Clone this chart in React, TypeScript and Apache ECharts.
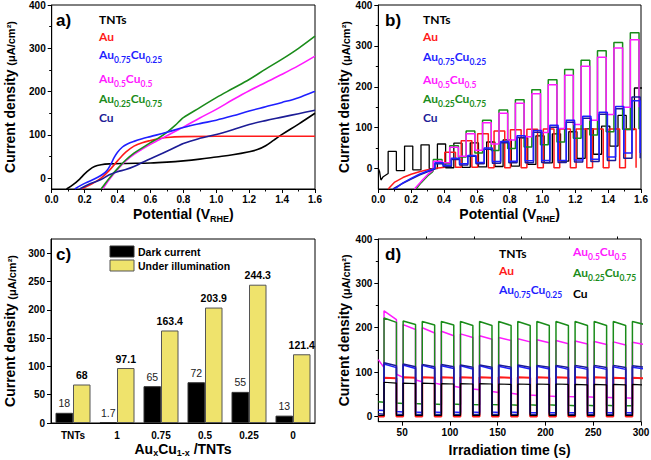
import React, { useEffect, useRef } from 'react';
import * as echarts from 'echarts';

const FONT = "'Liberation Sans', Arial, sans-serif";
const LEG_FONT = "Lato, 'Open Sans', sans-serif";

const C_BLACK = '#000000';
const C_RED = '#ff1a1a';
const C_BLUE = '#1f1fff';
const C_MAGENTA = '#ff1aff';
const C_GREEN = '#1a8c1a';
const C_NAVY = '#1c1c96';
const C_YELLOW = '#efe36c';

// ---------- panel a: LSV curves [potential V_RHE, current µA/cm²]
const aTNTs = [[0.09,-25],[0.13,-15],[0.17,-2],[0.2,10],[0.23,20],[0.26,27],[0.3,31],[0.35,33],[0.45,34],[0.6,35],[0.7,37],[0.8,40],[0.9,44],[1.0,49],[1.1,54],[1.2,61],[1.25,66],[1.3,75],[1.35,88],[1.4,101],[1.5,125],[1.6,150]];
const aAu = [[0.18,-25],[0.25,-12],[0.3,0],[0.35,18],[0.4,40],[0.45,60],[0.5,74],[0.55,82],[0.6,87],[0.65,91],[0.7,94],[0.8,96],[1.0,97],[1.6,97]];
const aAu75 = [[0.14,-25],[0.2,-12],[0.28,2],[0.33,15],[0.36,33],[0.38,48],[0.4,60],[0.43,72],[0.46,79],[0.5,85],[0.55,91],[0.6,96],[0.7,106],[0.8,117],[0.9,126],[1.0,134],[1.1,144],[1.2,155],[1.3,165],[1.4,175],[1.5,186],[1.6,201]];
const aAu50 = [[0.31,-25],[0.35,-3],[0.4,20],[0.45,40],[0.5,55],[0.55,67],[0.6,78],[0.65,88],[0.7,98],[0.8,118],[0.9,139],[1.0,159],[1.1,181],[1.2,202],[1.3,221],[1.4,240],[1.5,260],[1.6,282]];
const aAu25 = [[0.3,-25],[0.35,0],[0.4,22],[0.45,42],[0.5,58],[0.55,70],[0.6,82],[0.65,93],[0.7,106],[0.75,122],[0.78,133],[0.8,140],[0.9,163],[1.0,186],[1.1,207],[1.2,228],[1.3,252],[1.4,275],[1.5,300],[1.6,328]];
const aCu = [[0.17,-25],[0.22,-15],[0.3,-3],[0.35,8],[0.4,15],[0.45,20],[0.5,27],[0.55,36],[0.6,45],[0.7,62],[0.8,80],[0.9,92],[1.0,101],[1.1,112],[1.2,124],[1.3,133],[1.4,141],[1.5,149],[1.6,157]];

// ---------- panel b: chopped LSV. pre-chop points, dark & light level per 0.1 V cycle, light window in cycle
const B_CYCLE = 0.1;
const bTNTsPre = [[0.0,0],[0.008,-8],[0.016,-28],[0.03,-20],[0.06,-12]];
const bTNTsDark = [-12,-5,-3,0,2,3,4,5,6,10,14,18,25,35,55,95];
const bTNTsLight = [42,55,58,60,62,63,65,70,75,80,85,90,97,104,130,197];
const bTNTsWin = [0.06, 0.11];
const bAuPre = [[0.06,-50],[0.1,-33],[0.15,-22],[0.2,-14],[0.25,-8],[0.3,-3],[0.35,1]];
const bAuDark = [3,3,3,2,2,2,2,2,2,2,2,2];
const bAuLight = [40,68,85,92,95,96,97,97,97,97,97,97];
const bAuWin = [0.005, 0.07];
const bAu25Pre = [[0.23,-50],[0.26,-35],[0.3,-18],[0.33,-8]];
const bAu25Dark = [-5,12,28,38,44,49,53,58,65,74,82,90,96];
const bAu25Light = [22,56,92,118,143,168,193,217,242,265,288,308,332];
const bAu50Pre = [[0.22,-50],[0.26,-32],[0.3,-15],[0.33,-5]];
const bAu50Dark = [-3,14,30,45,60,70,78,88,98,108,118,132,150];
const bAu50Light = [18,52,85,112,135,160,183,205,228,250,272,295,315];
const bAu25Win = [0.035, 0.088];
const bAu75Pre = [[0.1,-50],[0.15,-35],[0.2,-24],[0.25,-14],[0.3,-6],[0.34,0]];
const bAu75Dark = [0,8,12,15,17,18,19,20,20,21,23,28,38];
const bAu75Light = [14,25,32,50,66,80,93,106,118,128,138,152,166];
const bCuPre = [[0.09,-50],[0.14,-38],[0.2,-26],[0.25,-16],[0.3,-8],[0.34,-2]];
const bCuDark = [-2,5,9,12,13,14,14,15,15,16,17,20,25];
const bCuLight = [12,22,30,47,63,76,89,101,113,123,133,146,175];
const bBlueWin = [0.045, 0.095];

// ---------- panel c
const cCategories = ['TNTs', '1', '0.75', '0.5', '0.25', '0'];
const cDark = [18, 1.7, 65, 72, 55, 13];
const cLight = [68, 97.1, 163.4, 203.9, 244.3, 121.4];

// ---------- panel d: chopped chronoamperometry, light on 31 s + 20 s·k for 13 s
const D_START = 25;
const D_FIRST_ON = 31;
const D_PERIOD = 20;
const D_ON = 13;
const dTNTsDarkS = [2,2,2,2,2,2,2,2,2,2,2,2,2,2];
const dTNTsDarkE = [2,2,2,2,2,2,2,2,2,2,2,2,2,2];
const dTNTsLightS = [77,75,75,74,74,74,73,73,73,73,72,72,72,72];
const dTNTsLightE = [75,74,74,73,73,73,72,72,72,72,71,71,71,71];
const dAuDarkS = [0,0,0,0,0,0,0,0,0,0,0,0,0,0];
const dAuDarkE = [0,0,0,0,0,0,0,0,0,0,0,0,0,0];
const dAuLightS = [87,88,88,88,88,88,88,88,88,88,88,88,87,87];
const dAuLightE = [86,87,87,87,87,87,87,87,87,87,87,87,86,86];
const dAu75DarkS = [14,11,10,10,10,10,10,10,9,9,9,9,9,9];
const dAu75DarkE = [13,10,9,9,9,9,9,9,8,8,8,8,8,8];
const dAu75LightS = [118,116,115,114,114,114,113,113,113,113,112,112,112,111];
const dAu75LightE = [110,108,108,108,107,107,107,107,107,106,106,106,106,107];
const dAu50DarkS = [128,95,82,75,68,62,56,52,48,46,45,44,43,42];
const dAu50DarkE = [110,88,78,72,65,60,54,50,47,45,44,43,42,41];
const dAu50LightS = [238,207,200,192,186,182,178,175,173,171,170,169,168,167];
const dAu50LightE = [218,196,188,182,178,174,171,168,166,164,163,162,161,162];
const dAu25DarkS = [33,30,29,28,28,27,27,26,26,26,25,25,25,24];
const dAu25DarkE = [32,29,28,27,27,26,26,25,25,25,24,24,24,24];
const dAu25LightS = [222,215,214,214,214,214,214,214,214,214,214,214,214,214];
const dAu25LightE = [212,207,206,206,205,205,205,205,205,205,205,205,205,207];
const dCuDarkS = [6,5,5,5,5,5,5,5,5,5,5,5,5,5];
const dCuDarkE = [5,4,4,4,4,4,4,4,4,4,4,4,4,4];
const dCuLightS = [121,118,117,117,116,116,116,116,115,115,115,115,115,114];
const dCuLightE = [114,112,112,112,111,111,111,111,111,110,110,110,110,111];

// ---------- builders (tables from the arrays above)
function buildChop(pre: number[][], dark: number[], light: number[], win: number[]) {
  const pts: number[][] = pre.map((p) => [p[0], p[1]]);
  const k0 = Math.round((pre[pre.length - 1][0] - win[0]) / B_CYCLE + 0.4999);
  for (let i = 0; i < dark.length; i++) {
    const k = k0 + i;
    const s = +(B_CYCLE * k + win[0]).toFixed(4);
    const e = +(B_CYCLE * k + win[1]).toFixed(4);
    const next = i + 1 < dark.length ? dark[i + 1] : dark[i];
    pts.push([s, dark[i]], [s, light[i]], [e, light[i]], [e, next]);
  }
  return pts;
}

function buildPulses(darkS: number[], darkE: number[], lightS: number[], lightE: number[]) {
  const pts: number[][] = [];
  for (let k = 0; k < lightS.length; k++) {
    const t0 = k === 0 ? D_START : D_FIRST_ON + D_PERIOD * (k - 1) + D_ON;
    const tOn = D_FIRST_ON + D_PERIOD * k;
    const tOff = tOn + D_ON;
    pts.push([t0, darkS[k]], [tOn, darkE[k]], [tOn, lightS[k]], [tOff, lightE[k]]);
  }
  return pts;
}

const tickFont = { fontFamily: FONT, fontWeight: 'bold' as const, fontSize: 10, color: '#000' };

function yName(gap: number) {
  return {
    name: '{m|Current density }{n|(μA/cm²)}',
    nameLocation: 'middle',
    nameGap: gap,
    nameMoveOverlap: false,
    nameTextStyle: {
      rich: {
        m: { fontFamily: FONT, fontWeight: 'bold', fontSize: 14, color: '#000' },
        n: { fontFamily: FONT, fontWeight: 'bold', fontSize: 11, color: '#000', padding: [3, 0, 0, 0] },
      },
    },
  };
}

function subName(text: string, gap: number, subPad = 10) {
  return {
    name: text,
    nameLocation: 'middle',
    nameGap: gap,
    nameMoveOverlap: false,
    nameTextStyle: {
      rich: {
        m: { fontFamily: FONT, fontWeight: 'bold', fontSize: 14, color: '#000', lineHeight: 16 },
        s: { fontFamily: FONT, fontWeight: 'bold', fontSize: 9, color: '#000', lineHeight: 9, padding: [subPad, 0, 0, 0] },
      },
    },
  };
}

const axisLineStyle = { show: true, onZero: false, lineStyle: { color: '#000', width: 1 } };

function valueY(grid: number, min: number, max: number, labels: number[], gap: number) {
  return {
    type: 'value', gridIndex: grid, position: 'left', min, max,
    axisLine: axisLineStyle,
    axisTick: { show: true, length: 4, customValues: labels, lineStyle: { color: '#000' } },
    axisLabel: { ...tickFont, margin: 6, customValues: labels },
    splitLine: { show: false },
    ...yName(gap),
  };
}

function minorY(grid: number, min: number, max: number, ticks: number[]) {
  return {
    type: 'value', gridIndex: grid, position: 'left', min, max,
    axisLine: { show: false, onZero: false },
    axisTick: { show: true, length: 2.5, customValues: ticks, lineStyle: { color: '#000' } },
    axisLabel: { show: false },
    splitLine: { show: false },
  };
}

function potentialX(grid: number) {
  return {
    type: 'value', gridIndex: grid, min: 0, max: 1.6, interval: 0.2,
    axisLine: axisLineStyle,
    axisTick: { show: true, length: 4, lineStyle: { color: '#000' } },
    minorTick: { show: true, splitNumber: 2, length: 2.5, lineStyle: { color: '#000' } },
    axisLabel: { ...tickFont, margin: 5, formatter: (v: number) => v.toFixed(1) },
    splitLine: { show: false },
    ...subName('{m|Potential (V}{s|RHE}{m|)}', 17),
  };
}

function line(name: string, data: number[][], color: string, xi: number, yi: number, w = 1.5) {
  return {
    type: 'line', name, data, xAxisIndex: xi, yAxisIndex: yi,
    showSymbol: false, symbol: 'none', smooth: false,
    lineStyle: { color, width: w }, itemStyle: { color },
    silent: true, z: 2,
  };
}

function smoothLine(name: string, data: number[][], color: string, xi: number, yi: number) {
  return { ...line(name, data, color, xi, yi, 1.6), smooth: 0.35 };
}

function legendText(x: number, y: number, text: string, color: string) {
  return {
    type: 'text', x, y, silent: true,
    style: {
      text, fill: color,
      font: `bold 12px ${LEG_FONT}`,
      align: 'left', verticalAlign: 'middle',
      rich: {
        m: { fill: color, fontSize: 12, fontWeight: 'bold', fontFamily: LEG_FONT, lineHeight: 15 },
        s: { fill: color, fontSize: 8.5, fontWeight: 'bold', fontFamily: LEG_FONT, lineHeight: 9, padding: [11, 0, 0, 0] },
      },
    },
  };
}

function panelLabel(x: number, y: number, text: string) {
  return {
    type: 'text', x, y, silent: true,
    style: { text, fill: '#000', font: `bold 17px ${FONT}`, align: 'left', verticalAlign: 'middle' },
  };
}

const L_AU75 = '{m|Au}{s|0.75}{m|Cu}{s|0.25}';
const L_AU50 = '{m|Au}{s|0.5}{m|Cu}{s|0.5}';
const L_AU25 = '{m|Au}{s|0.25}{m|Cu}{s|0.75}';

export default function App() {
  const ref = useRef<HTMLDivElement>(null);
  useEffect(() => {
    if (!ref.current) return;
    const chart = echarts.init(ref.current, undefined, { renderer: 'svg' });
    const gridBase = { show: true, borderColor: '#000', borderWidth: 1, backgroundColor: 'transparent', containLabel: false, outerBoundsMode: 'none' };
    const option: any = {
      animation: false,
      backgroundColor: '#ffffff',
      textStyle: { fontFamily: FONT },
      grid: [
        { ...gridBase, left: 51.7, top: 5, width: 263.3, height: 184 },
        { ...gridBase, left: 378.3, top: 5, width: 262.7, height: 184 },
        { ...gridBase, left: 51, top: 239, width: 264, height: 184 },
        { ...gridBase, left: 378.3, top: 239, width: 262.7, height: 182.7 },
      ],
      xAxis: [
        potentialX(0),
        potentialX(1),
        {
          type: 'category', gridIndex: 2, data: cCategories,
          axisLine: axisLineStyle,
          axisTick: { show: false },
          axisLabel: { ...tickFont, margin: 7, interval: 0 },
          splitLine: { show: false },
          ...subName('{m|Au}{s|x}{m|Cu}{s|1-x}{m| /TNTs}', 18, 7),
        },
        {
          type: 'value', gridIndex: 3, min: D_START, max: 300,
          axisLine: axisLineStyle,
          axisTick: { show: true, length: 4, customValues: [50, 100, 150, 200, 250, 300], lineStyle: { color: '#000' } },
          axisLabel: { ...tickFont, margin: 6, customValues: [50, 100, 150, 200, 250, 300] },
          splitLine: { show: false },
          name: 'Irradiation time (s)', nameLocation: 'middle', nameGap: 21, nameMoveOverlap: false,
          nameTextStyle: { fontFamily: FONT, fontWeight: 'bold', fontSize: 14, color: '#000' },
        },
        {
          type: 'value', gridIndex: 3, min: D_START, max: 300,
          axisLine: { show: false, onZero: false },
          axisTick: { show: true, length: 2.5, customValues: [75, 125, 175, 225, 275], lineStyle: { color: '#000' } },
          axisLabel: { show: false },
          splitLine: { show: false },
        },
      ],
      yAxis: [
        valueY(0, -25, 400, [0, 100, 200, 300, 400], 35),
        minorY(0, -25, 400, [50, 150, 250, 350]),
        valueY(1, -50, 400, [0, 100, 200, 300, 400], 27),
        minorY(1, -50, 400, [50, 150, 250, 350]),
        valueY(2, 0, 325, [0, 50, 100, 150, 200, 250, 300], 34),
        valueY(3, -12, 400, [0, 100, 200, 300, 400], 27),
        minorY(3, -12, 400, [50, 150, 250, 350]),
      ],
      series: [
        // a
        smoothLine('TNTs', aTNTs, C_BLACK, 0, 0),
        smoothLine('Au', aAu, C_RED, 0, 0),
        smoothLine('Au0.5Cu0.5', aAu50, C_MAGENTA, 0, 0),
        smoothLine('Au0.25Cu0.75', aAu25, C_GREEN, 0, 0),
        smoothLine('Cu', aCu, C_NAVY, 0, 0),
        smoothLine('Au0.75Cu0.25', aAu75, C_BLUE, 0, 0),
        // b
        line('TNTs', buildChop(bTNTsPre, bTNTsDark, bTNTsLight, bTNTsWin), C_BLACK, 1, 2, 1.3),
        line('Au', buildChop(bAuPre, bAuDark, bAuLight, bAuWin), C_RED, 1, 2),
        line('Au0.25Cu0.75', buildChop(bAu25Pre, bAu25Dark, bAu25Light, bAu25Win), C_GREEN, 1, 2),
        line('Au0.5Cu0.5', buildChop(bAu50Pre, bAu50Dark, bAu50Light, bAu25Win), C_MAGENTA, 1, 2),
        line('Cu', buildChop(bCuPre, bCuDark, bCuLight, bBlueWin), C_NAVY, 1, 2),
        line('Au0.75Cu0.25', buildChop(bAu75Pre, bAu75Dark, bAu75Light, bBlueWin), C_BLUE, 1, 2),
        // c
        {
          type: 'bar', name: 'Dark current', data: cDark, xAxisIndex: 2, yAxisIndex: 4,
          barWidth: 17.5, barGap: '0%',
          itemStyle: { color: '#000', borderColor: '#333', borderWidth: 1 },
          label: { show: true, position: 'top', distance: 4, fontFamily: FONT, fontSize: 10.5, color: '#222', fontWeight: 'normal' },
          silent: true,
        },
        {
          type: 'bar', name: 'Under illumination', data: cLight, xAxisIndex: 2, yAxisIndex: 4,
          barWidth: 17.5, barGap: '0%',
          itemStyle: { color: C_YELLOW, borderColor: '#555', borderWidth: 1 },
          label: { show: true, position: 'top', distance: 4, fontFamily: FONT, fontSize: 10.5, color: '#000', fontWeight: 'bold' },
          silent: true,
        },
        // d
        line('Au0.5Cu0.5', buildPulses(dAu50DarkS, dAu50DarkE, dAu50LightS, dAu50LightE), C_MAGENTA, 3, 5),
        line('Au0.25Cu0.75', buildPulses(dAu25DarkS, dAu25DarkE, dAu25LightS, dAu25LightE), C_GREEN, 3, 5),
        line('Au', buildPulses(dAuDarkS, dAuDarkE, dAuLightS, dAuLightE), C_RED, 3, 5, 2),
        line('Au0.75Cu0.25', buildPulses(dAu75DarkS, dAu75DarkE, dAu75LightS, dAu75LightE), C_BLUE, 3, 5),
        line('Cu', buildPulses(dCuDarkS, dCuDarkE, dCuLightS, dCuLightE), C_NAVY, 3, 5),
        line('TNTs', buildPulses(dTNTsDarkS, dTNTsDarkE, dTNTsLightS, dTNTsLightE), C_BLACK, 3, 5, 1.2),
      ],
      graphic: [
        panelLabel(56, 20, 'a)'),
        panelLabel(385, 20, 'b)'),
        panelLabel(56, 254, 'c)'),
        panelLabel(385, 254, 'd)'),
        // a legend
        legendText(99, 19, 'TNTs', C_BLACK),
        legendText(99, 36, 'Au', C_RED),
        legendText(99, 54, L_AU75, C_BLUE),
        legendText(99, 78, L_AU50, C_MAGENTA),
        legendText(99, 98, L_AU25, C_GREEN),
        legendText(99, 117, 'Cu', C_NAVY),
        // b legend
        legendText(423, 19, 'TNTs', C_BLACK),
        legendText(423, 36, 'Au', C_RED),
        legendText(423, 56, L_AU75, C_BLUE),
        legendText(423, 79, L_AU50, C_MAGENTA),
        legendText(423, 98, L_AU25, C_GREEN),
        legendText(423, 117, 'Cu', C_NAVY),
        // c legend
        { type: 'rect', silent: true, shape: { x: 110, y: 246, width: 24, height: 11 }, style: { fill: '#000', stroke: '#333', lineWidth: 1 } },
        { type: 'rect', silent: true, shape: { x: 110, y: 260, width: 24, height: 11 }, style: { fill: C_YELLOW, stroke: '#555', lineWidth: 1 } },
        { type: 'text', silent: true, x: 138, y: 251.5, style: { text: 'Dark current', fill: '#000', font: `bold 10.5px ${FONT}`, align: 'left', verticalAlign: 'middle' } },
        { type: 'text', silent: true, x: 138, y: 265.5, style: { text: 'Under illumination', fill: '#000', font: `bold 10.5px ${FONT}`, align: 'left', verticalAlign: 'middle' } },
        // d legend
        legendText(499, 253, 'TNTs', C_BLACK),
        legendText(499, 270, 'Au', C_RED),
        legendText(499, 289, L_AU75, C_BLUE),
        legendText(573, 251, L_AU50, C_MAGENTA),
        legendText(573, 272, L_AU25, C_GREEN),
        legendText(573, 293, 'Cu', C_BLACK),
      ],
    };
    chart.setOption(option);
    return () => chart.dispose();
  }, []);
  return <div ref={ref} style={{ position: 'absolute', left: 0, top: 0, width: 651, height: 460, background: '#fff' }} />;
}
